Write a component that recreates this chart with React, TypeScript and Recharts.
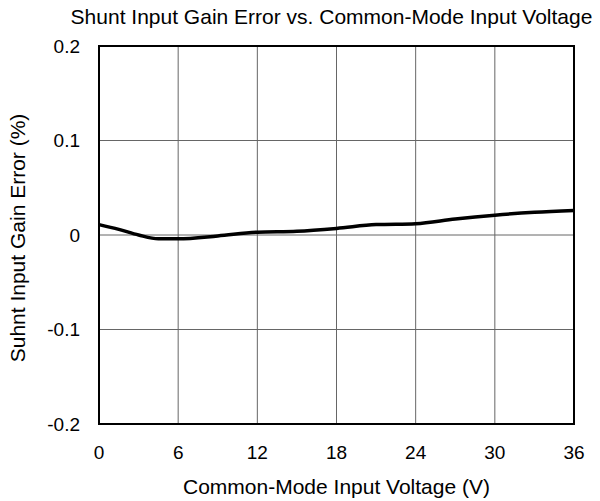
import {
  LineChart,
  Line,
  XAxis,
  YAxis,
  CartesianGrid,
  ReferenceArea,
} from 'recharts';

const voltage = [0, 1.5, 3, 4.5, 6, 9, 12, 15, 18, 21, 24, 27, 30, 33, 36];
const gainError = [0.011, 0.006, 0.0, -0.004, -0.004, -0.001, 0.003, 0.004, 0.007, 0.011, 0.012, 0.017, 0.021, 0.024, 0.026];
const xTicks = [0, 6, 12, 18, 24, 30, 36];
const yTicks = [-0.2, -0.1, 0, 0.1, 0.2];

const data = voltage.map((v, i) => ({ v, err: gainError[i] }));

const font = '"Liberation Sans", Arial, sans-serif';
const tickSize = 19;
const labelSize = 21;

export default function App() {
  return (
    <div style={{ position: 'absolute', left: 0, top: 0, width: 600, height: 501, fontFamily: font }}>
      <div
        style={{
          position: 'absolute',
          left: 0,
          width: 663,
          top: 6,
          textAlign: 'center',
          fontSize: labelSize,
          lineHeight: '21px',
          color: '#000',
          whiteSpace: 'nowrap',
        }}
      >
        Shunt Input Gain Error vs. Common-Mode Input Voltage
      </div>
      <LineChart width={600} height={501} data={data} margin={{ top: 46, right: 26, left: 0, bottom: 0 }}>
        <CartesianGrid stroke="#666" strokeWidth={1} />
        <XAxis
          dataKey="v"
          type="number"
          domain={[0, 36]}
          ticks={xTicks}
          height={77}
          tickLine={false}
          axisLine={false}
          tickSize={0}
          tickMargin={22}
          tick={{ fill: '#000', fontSize: tickSize, fontFamily: font }}
          label={{
            content: ({ viewBox }: any) => (
              <text
                x={viewBox.x + viewBox.width / 2}
                y={viewBox.y + 69.5}
                textAnchor="middle"
                fill="#000"
                fontSize={labelSize}
                fontFamily={font}
              >
                Common-Mode Input Voltage (V)
              </text>
            ),
          }}
        />
        <YAxis
          type="number"
          domain={[-0.2, 0.2]}
          ticks={yTicks}
          width={99}
          tickLine={false}
          axisLine={false}
          tickSize={0}
          tickMargin={19}
          tickFormatter={(t: number) => (t === 0 ? '0' : String(t))}
          tick={{ fill: '#000', fontSize: tickSize, fontFamily: font }}
          label={{
            content: ({ viewBox }: any) => {
              const cy = viewBox.y + viewBox.height / 2 + 3;
              return (
                <text
                  x={25}
                  y={cy}
                  transform={`rotate(-90 25 ${cy})`}
                  textAnchor="middle"
                  fill="#000"
                  fontSize={labelSize}
                  fontFamily={font}
                >
                  Suhnt Input Gain Error (%)
                </text>
              );
            },
          }}
        />
        <ReferenceArea x1={0} x2={36} y1={-0.2} y2={0.2} fill="none" stroke="#000" strokeWidth={2} ifOverflow="visible" />
        <Line
          type="monotone"
          dataKey="err"
          stroke="#000"
          strokeWidth={3.5}
          dot={false}
          isAnimationActive={false}
        />
      </LineChart>
    </div>
  );
}
